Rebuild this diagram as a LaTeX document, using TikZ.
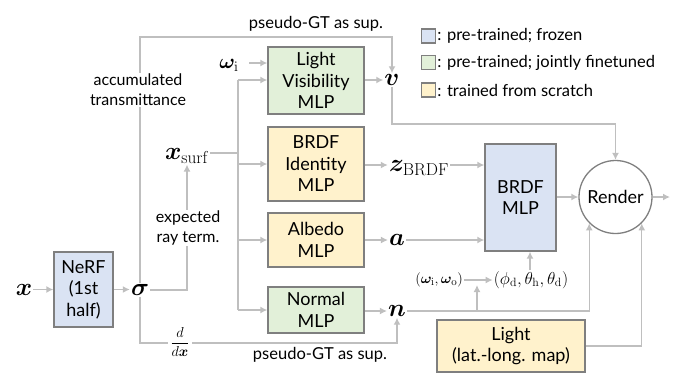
\documentclass[tikz,border=0pt]{standalone}
\usepackage{amsmath,bm}
\usepackage[no-math]{fontspec}
\setmainfont{Lato}
\usetikzlibrary{arrows.meta,backgrounds}
\definecolor{fblue}{HTML}{DAE3F3}
\definecolor{fgreen}{HTML}{E2F0D9}
\definecolor{fyellow}{HTML}{FFF2CC}
\definecolor{bgray}{HTML}{7F7F7F}
\definecolor{lgray}{HTML}{BFBFBF}
\begin{document}
\begin{tikzpicture}[x=1pt,y=-1pt,
  box/.style={draw=bgray,line width=1.3pt,align=center,inner sep=0pt,font=\fontsize{18}{21.5}\selectfont},
  ln/.style={draw=lgray,line width=1.4pt},
  arr/.style={ln,-{Latex[length=7pt,width=7pt]}},
  sym/.style={inner sep=1pt,font=\fontsize{28}{30}\selectfont},
  lab/.style={align=center,inner sep=1pt,fill=white,font=\fontsize{16}{20}\selectfont},
  legsq/.style={draw=bgray,line width=1.2pt,minimum width=14pt,minimum height=14pt,inner sep=0pt},
  legtx/.style={anchor=west,inner sep=1pt,font=\fontsize{16.5}{18}\selectfont}]
\useasboundingbox (0,0) rectangle (675,384);

% boxes
\node[box,fill=fblue,minimum width=59pt,minimum height=75pt] (nerf) at (83.5,289.5) {NeRF\\(1st\\half)};
\node[box,fill=fgreen,minimum width=96pt,minimum height=67pt] (lv) at (316,80.5) {Light\\Visibility\\MLP};
\node[box,fill=fyellow,minimum width=96pt,minimum height=74pt] (bi) at (316,164) {BRDF\\Identity\\MLP};
\node[box,fill=fyellow,minimum width=96pt,minimum height=54pt] (al) at (316,240) {Albedo\\MLP};
\node[box,fill=fgreen,minimum width=96pt,minimum height=46pt] (nm) at (316,310) {Normal\\MLP};
\node[box,fill=fblue,minimum width=71pt,minimum height=107pt] (brdf) at (520.5,197.5) {BRDF\\MLP};
\node[draw=bgray,line width=1.3pt,circle,minimum size=73pt,inner sep=0pt,font=\fontsize{18}{21.5}\selectfont] (render) at (615.5,197) {Render};
\node[box,fill=fyellow,minimum width=148pt,minimum height=52pt] (light) at (511,346) {Light\\(lat.-long. map)};

% symbols
\node[sym] (x) at (24,290) {$\bm{x}$};
\node[sym] (sigma) at (140,290) {$\bm{\sigma}$};
\node[sym,font=\fontsize{24}{26}\selectfont] (xsurf) at (187,156) {$\bm{x}_{\mathrm{surf}}$};
\node[sym,font=\fontsize{22}{24}\selectfont] (omegai) at (229,65) {$\bm{\omega}_{\mathrm{i}}$};
\node[sym,font=\fontsize{26}{28}\selectfont] (v) at (392,80) {$\bm{v}$};
\node[sym,font=\fontsize{25}{27}\selectfont] (z) at (419,168) {$\bm{z}_{\mathrm{BRDF}}$};
\node[sym] (a) at (397,240) {$\bm{a}$};
\node[sym] (n) at (397,311) {$\bm{n}$};
\node[inner sep=1pt,font=\fontsize{15.5}{17}\selectfont] (omegas) at (439,280) {$(\bm{\omega}_{\mathrm{i}},\bm{\omega}_{\mathrm{o}})$};
\node[inner sep=1pt,font=\fontsize{17.5}{18}\selectfont] (phis) at (531,280) {$(\phi_{\mathrm{d}},\theta_{\mathrm{h}},\theta_{\mathrm{d}})$};

% labels
\node[lab] (acc) at (138,90) {accumulated\\transmittance};
\node[lab] (exp) at (188,228) {expected\\ray term.};
\node[lab,inner sep=2pt,font=\fontsize{15}{16}\selectfont] (ddx) at (180,342) {$\displaystyle\frac{d}{d\bm{x}}$};
\node[inner sep=1pt,font=\fontsize{16.5}{18}\selectfont] (gt1) at (316,24) {pseudo-GT as sup.};
\node[inner sep=1pt,font=\fontsize{16.5}{18}\selectfont] (gt2) at (320,355) {pseudo-GT as sup.};

% legend
\node[legsq,fill=fblue] (l1) at (428.5,36) {};
\node[legtx] (l1t) at (l1.east) {: pre-trained; frozen};
\node[legsq,fill=fgreen] (l2) at (428.5,62.5) {};
\node[legtx] (l2t) at (l2.east) {: pre-trained; jointly finetuned};
\node[legsq,fill=fyellow] (l3) at (428.5,90) {};
\node[legtx] (l3t) at (l3.east) {: trained from scratch};

% coordinates
\coordinate (ytop) at (0,37);
\coordinate (ybot) at (0,343);
\coordinate (yv) at (0,124);
\coordinate (b0) at (238,153);
\coordinate (b1) at (238,80);
\coordinate (b2) at (238,164);
\coordinate (b3) at (238,240);
\coordinate (b4) at (238,310);
\coordinate (wi) at (249,63);
\coordinate (nb) at (477,311);
\coordinate (nbt) at (477,285);
\coordinate (out) at (670,197);

\begin{scope}[on background layer]
\draw[arr] (x.east |- nerf.west) -- (nerf.west);
\draw[arr] (nerf.east) -- (nerf.east -| sigma.west);
\draw[arr] (sigma.north) -- (sigma.north |- ytop) -| (v.north);
\draw[arr] (sigma.south) -- (sigma.south |- ybot) -| (n.south);
\draw[arr] (sigma.east) -| (xsurf.south);
\draw[ln] (xsurf.east |- b0) -- (b0);
\draw[ln] (b1) -- (b4);
\draw[arr] (b1) -- (b1 -| lv.west);
\draw[arr] (b2) -- (b2 -| bi.west);
\draw[arr] (b3) -- (b3 -| al.west);
\draw[arr] (b4) -- (b4 -| nm.west);
\draw[arr] (wi) -- (wi -| lv.west);
\draw[arr] (lv.east |- v.west) -- (v.west);
\draw[arr] (bi.east |- 0,165) -- (z.west |- 0,165);
\draw[arr] (al.east |- a.west) -- (a.west);
\draw[arr] (nm.east |- n.west) -- (n.west);
\draw[arr] (z.east |- 0,165) -- (brdf.west |- 0,165);
\draw[arr] (a.east) -- (a.east -| brdf.west);
\draw[arr] (v.south) -- (v.south |- yv) -| (render.north);
\draw[arr] (brdf.east |- render.west) -- (render.west);
\draw[arr] (render.east) -- (out);
\draw[arr] (omegas.east) -- (phis.west);
\draw[arr] (phis.north -| 530,0) -- (530,0 |- brdf.south);
\draw[arr] (n.east) -| (render.south west);
\draw[arr] (nb) -- (nbt);
\draw[arr] (light.east) -| (render.south east);
\end{scope}
\end{tikzpicture}
\end{document}
